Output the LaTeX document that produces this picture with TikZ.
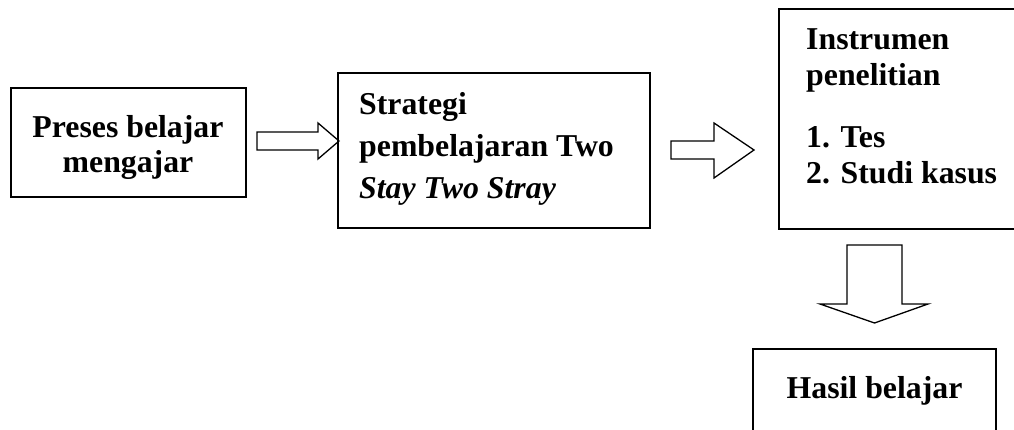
\documentclass[tikz,border=0pt]{standalone}
\usepackage{fontspec}
\setmainfont{Liberation Serif}
\begin{document}
\begin{tikzpicture}[x=1pt,y=-1pt,line join=miter,
  font=\fontsize{31.8}{35}\selectfont\bfseries,
  box/.style={draw,line width=1.8pt,inner sep=0pt},
  blockarrow/.style={draw,line width=1.3pt}]
  \useasboundingbox (0,0) rectangle (1014,430);
  % boxes
  \node[box,minimum width=235pt,minimum height=109pt] (proses) at (128.5,142.5) {};
  \node[box,minimum width=312pt,minimum height=155pt] (strategi) at (494,150.5) {};
  \node[box,minimum width=237pt,minimum height=220pt] (instrumen) at (897.5,119) {};
  \node[box,minimum width=243pt,minimum height=83pt] (hasil) at (874.5,390.5) {};
  % texts (base = last line)
  \node[anchor=base,align=center,inner sep=0pt] (tproses) at (128,173) {Preses belajar\\mengajar};
  \node[anchor=base west,align=left,inner sep=0pt] (tstrategi) at (359,199)
    {Strategi\\[7pt]pembelajaran Two\\[7pt]\textit{Stay Two Stray}};
  \node[anchor=base west,align=left,inner sep=0pt] (tinstrumen) at (806,184)
    {Instrumen\\[1pt]penelitian\\[27pt]1. Tes\\[1pt]2. Studi kasus};
  \node[anchor=base,inner sep=0pt] (thasil) at (874.5,398) {Hasil belajar};
  % block arrows
  \coordinate (a1) at (257,141);
  \coordinate (a2) at (671,150);
  \coordinate (a3) at (874.5,245);
  \draw[blockarrow] (a1) ++(0,-9) -- ++(61,0) -- ++(0,-9) -- ++(21,18) -- ++(-21,18) -- ++(0,-9) -- ++(-61,0) -- cycle;
  \draw[blockarrow] (a2) ++(0,-9) -- ++(43,0) -- ++(0,-18) -- ++(40,27) -- ++(-40,28) -- ++(0,-19) -- ++(-43,0) -- cycle;
  \draw[blockarrow] (a3) ++(-27.5,0) -- ++(55,0) -- ++(0,59) -- ++(26,0) -- ++(-53.5,19) -- ++(-54.5,-19) -- ++(27,0) -- cycle;
\end{tikzpicture}
\end{document}
